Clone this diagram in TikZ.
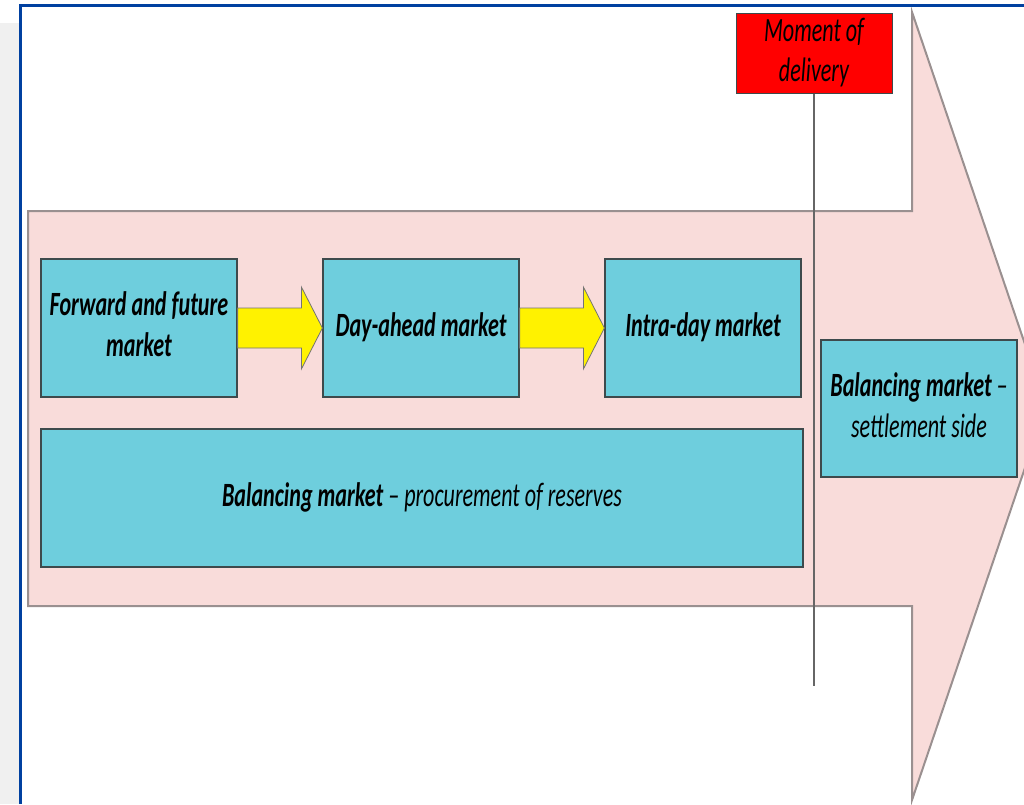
\documentclass[tikz,border=0pt]{standalone}
\usepackage{fontspec}
\setmainfont{Carlito}
\usepackage{graphicx}
\usetikzlibrary{calc}

\definecolor{arrowpink}{HTML}{F9DCDA}
\definecolor{arrowline}{HTML}{9A9090}
\definecolor{marketblue}{HTML}{6ECEDD}
\definecolor{boxline}{HTML}{3E4A4C}
\definecolor{framecolor}{HTML}{0040A0}
\definecolor{pagegray}{HTML}{F0F0F0}

\newcommand{\narrow}[1]{\scalebox{0.65}[1]{\begin{tabular}{@{}c@{}}#1\end{tabular}}}

\begin{document}
\begin{tikzpicture}[x=1pt,y=-1pt,
    market/.style={draw=boxline, fill=marketblue, line width=1.2pt, inner sep=0pt,
      minimum width=196pt, minimum height=138pt,
      font=\fontsize{34}{41}\selectfont\itshape},
    delivery/.style={draw=boxline, fill=red, line width=1pt, inner sep=0pt,
      minimum width=156pt, minimum height=80pt,
      font=\fontsize{34}{40}\selectfont\itshape},
    blockarrow/.style={draw=black!55, fill=yellow, line width=0.8pt, line join=miter}]
    \useasboundingbox (0,0) rectangle (1024,804);
    \fill[pagegray] (0,23) rectangle (20,804);
    \begin{scope}
        \clip (0,0) rectangle (1024,804);
        \filldraw[fill=arrowpink, draw=arrowline, line width=2pt]
            (28,211) -- (912,211) -- (912,12) -- (1046,406) -- (912,800)
            -- (912,606) -- (28,606) -- cycle;
    \end{scope}

    \node[market] (fwd)   at (139,328) {\narrow{\bfseries Forward and future\\\bfseries market}};
    \node[market] (dah)   at (421,328) {\narrow{\bfseries Day-ahead market}};
    \node[market] (intra) at (703,328) {\narrow{\bfseries Intra-day market}};
    \node[market, minimum width=762pt] (proc) at (422,498)
        {\narrow{\textbf{Balancing market} -- procurement of reserves}};
    \node[market, minimum height=137pt] (settle) at (919,408.5)
        {\narrow{\textbf{Balancing market} --\\settlement side}};
    \node[delivery] (moment) at (814,53) {\narrow{Moment of\\delivery}};

    \coordinate (deliveryend) at (814,686);
    \draw[black!60, line width=1.2pt] (moment.south) -- (deliveryend);

    \foreach \a/\b in {fwd/dah, dah/intra}
        \filldraw[blockarrow] ($(\a.east)+(0,-20)$) -- ($(\b.west)+(-21,-20)$)
            -- ($(\b.west)+(-21,-41)$) -- (\b.west) -- ($(\b.west)+(-21,41)$)
            -- ($(\b.west)+(-21,20)$) -- ($(\a.east)+(0,20)$) -- cycle;

    \draw[framecolor, line width=3pt] (20,804) -- (20,5) -- (1024,5);
\end{tikzpicture}
\end{document}
